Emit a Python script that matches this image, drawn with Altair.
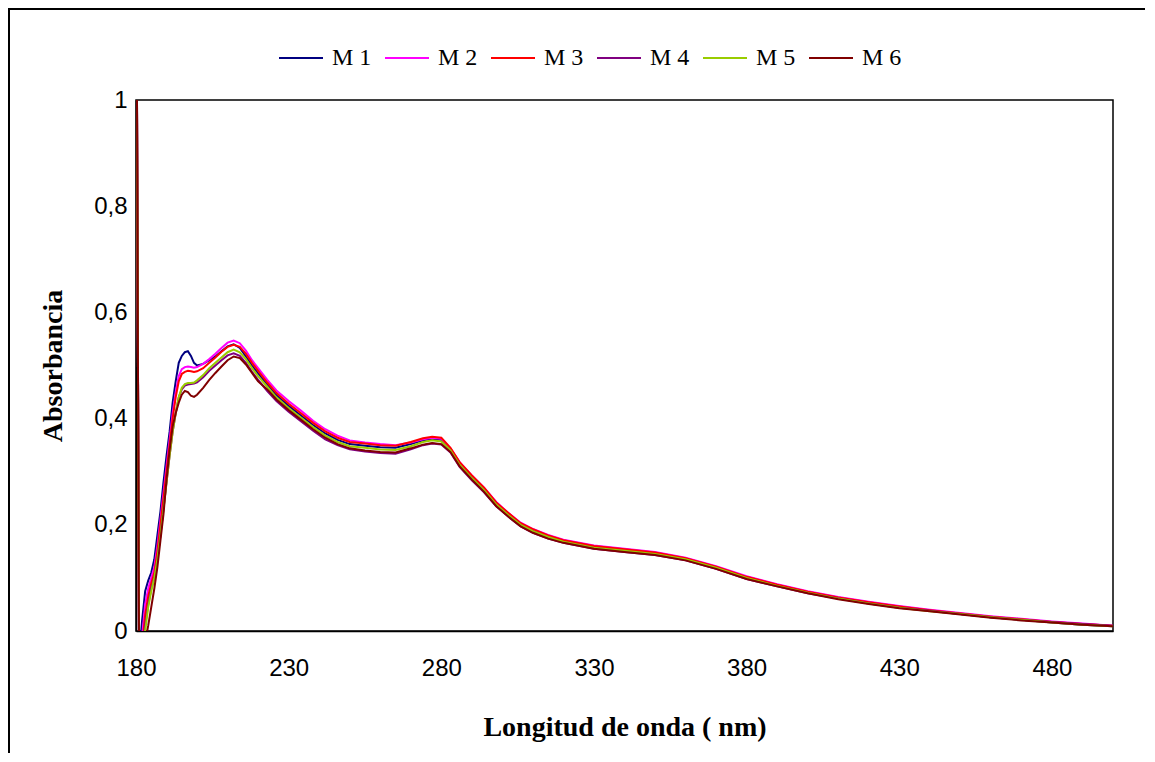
import altair as alt
import pandas as pd

wavelengths = [180, 181, 182, 183, 184, 185, 186, 187, 188, 189, 190, 191, 192, 193, 194, 195, 196, 197, 198, 199, 200,
               202, 204, 206, 208, 210, 212, 214, 216, 218, 220,
               223, 226, 230, 234, 238, 242, 246, 250, 255, 260, 265, 270, 274, 277, 280, 283, 286, 290, 294, 298, 302, 306, 310, 315, 320,
               330, 340, 350, 360, 370, 380, 390, 400, 410, 420, 430, 440, 450, 460, 470, 480, 490, 500]

m1 = [1.5, -0.05, 0.02, 0.075, 0.095, 0.11, 0.135, 0.18, 0.225, 0.28, 0.33, 0.375, 0.43, 0.47, 0.505, 0.518, 0.525, 0.527, 0.518, 0.505, 0.5,
      0.503, 0.51, 0.517, 0.527, 0.536, 0.54, 0.533, 0.517, 0.5, 0.485,
      0.464, 0.444, 0.424, 0.406, 0.388, 0.372, 0.36, 0.352, 0.349, 0.346, 0.345, 0.352, 0.359, 0.362, 0.36, 0.342, 0.315, 0.29, 0.267, 0.24, 0.22, 0.201, 0.19, 0.178, 0.17,
      0.159, 0.153, 0.147, 0.136, 0.12, 0.101, 0.086, 0.073, 0.062, 0.053, 0.045, 0.038, 0.032, 0.026, 0.021, 0.016, 0.012, 0.009]

m2 = [1.5, -0.05, -0.01, 0.05, 0.08, 0.1, 0.12, 0.16, 0.21, 0.26, 0.31, 0.36, 0.41, 0.45, 0.48, 0.493, 0.497, 0.498, 0.497, 0.496, 0.497,
      0.503, 0.512, 0.522, 0.533, 0.543, 0.547, 0.542, 0.528, 0.51, 0.495,
      0.473, 0.453, 0.433, 0.415, 0.396, 0.38, 0.368, 0.359, 0.355, 0.352, 0.35, 0.355, 0.361, 0.364, 0.362, 0.344, 0.318, 0.293, 0.27, 0.243, 0.222, 0.204, 0.192, 0.181, 0.172,
      0.161, 0.155, 0.149, 0.138, 0.122, 0.103, 0.088, 0.075, 0.064, 0.055, 0.047, 0.04, 0.034, 0.028, 0.023, 0.018, 0.014, 0.01]

m3 = [1.5, -0.05, -0.03, 0.03, 0.065, 0.09, 0.11, 0.15, 0.2, 0.25, 0.3, 0.35, 0.4, 0.44, 0.47, 0.484, 0.488, 0.49, 0.489, 0.488, 0.489,
      0.495, 0.505, 0.515, 0.526, 0.535, 0.539, 0.535, 0.522, 0.505, 0.49,
      0.468, 0.448, 0.428, 0.41, 0.392, 0.376, 0.364, 0.356, 0.353, 0.35, 0.349, 0.356, 0.363, 0.366, 0.364, 0.345, 0.318, 0.293, 0.27, 0.242, 0.222, 0.203, 0.192, 0.18, 0.171,
      0.16, 0.154, 0.148, 0.137, 0.121, 0.102, 0.087, 0.074, 0.063, 0.054, 0.046, 0.039, 0.033, 0.027, 0.022, 0.017, 0.013, 0.01]

m4 = [1.5, -0.05, -0.04, 0.01, 0.05, 0.08, 0.1, 0.135, 0.18, 0.23, 0.28, 0.33, 0.375, 0.41, 0.44, 0.455, 0.462, 0.464, 0.465, 0.466, 0.468,
      0.478, 0.49, 0.5, 0.51, 0.519, 0.523, 0.518, 0.505, 0.488, 0.473,
      0.452, 0.433, 0.413, 0.395, 0.377, 0.361, 0.35, 0.342, 0.338, 0.335, 0.334, 0.342, 0.35, 0.353, 0.351, 0.336, 0.309, 0.284, 0.261, 0.235, 0.215, 0.197, 0.185, 0.174, 0.166,
      0.155, 0.149, 0.143, 0.133, 0.117, 0.098, 0.084, 0.071, 0.061, 0.052, 0.044, 0.038, 0.032, 0.026, 0.021, 0.017, 0.013, 0.01]

m5 = [1.5, -0.05, -0.04, 0.0, 0.045, 0.075, 0.1, 0.135, 0.18, 0.23, 0.28, 0.33, 0.375, 0.41, 0.44, 0.458, 0.465, 0.467, 0.467, 0.468, 0.472,
      0.482, 0.495, 0.505, 0.515, 0.525, 0.53, 0.525, 0.512, 0.495, 0.48,
      0.46, 0.44, 0.42, 0.402, 0.384, 0.368, 0.356, 0.348, 0.345, 0.342, 0.341, 0.348, 0.356, 0.359, 0.357, 0.34, 0.313, 0.288, 0.265, 0.238, 0.218, 0.2, 0.188, 0.177, 0.168,
      0.157, 0.151, 0.145, 0.135, 0.119, 0.1, 0.085, 0.072, 0.061, 0.052, 0.044, 0.037, 0.032, 0.026, 0.021, 0.016, 0.012, 0.009]

m6 = [1.5, -0.05, -0.05, -0.02, 0.01, 0.045, 0.08, 0.12, 0.17, 0.22, 0.285, 0.34, 0.385, 0.41, 0.43, 0.445, 0.452, 0.45, 0.443, 0.441, 0.445,
      0.458, 0.473, 0.486, 0.498, 0.51, 0.517, 0.514, 0.502, 0.486, 0.47,
      0.455, 0.436, 0.416, 0.398, 0.38, 0.364, 0.352, 0.344, 0.34, 0.337, 0.336, 0.344, 0.351, 0.354, 0.352, 0.337, 0.31, 0.285, 0.262, 0.235, 0.215, 0.197, 0.185, 0.174, 0.166,
      0.155, 0.149, 0.143, 0.133, 0.117, 0.098, 0.084, 0.071, 0.06, 0.051, 0.043, 0.037, 0.031, 0.025, 0.02, 0.016, 0.012, 0.009]

series_names = ["M 1", "M 2", "M 3", "M 4", "M 5", "M 6"]
series_colors = ["#000080", "#FF00FF", "#FF0000", "#800080", "#99CC00", "#800000"]
x_ticks = [180, 230, 280, 330, 380, 430, 480]
y_ticks = [0, 0.2, 0.4, 0.6, 0.8, 1]

rows = []
for name, vals in zip(series_names, [m1, m2, m3, m4, m5, m6]):
    for w, v in zip(wavelengths, vals, strict=True):
        rows.append({"wl": w, "abs": v, "serie": name})
df = pd.DataFrame(rows)

one = pd.DataFrame({"a": [0]})
frame_top = alt.Chart(one).mark_rule(color="black", strokeWidth=2).encode(
    x=alt.value(-127), x2=alt.value(1009), y=alt.value(-91)
)
frame_left = alt.Chart(one).mark_rule(color="black", strokeWidth=2).encode(
    x=alt.value(-127), y=alt.value(-92), y2=alt.value(653)
)

lines = alt.Chart(df).mark_line(strokeWidth=2, clip=True).encode(
    x=alt.X("wl:Q",
            scale=alt.Scale(domain=[180, 500], nice=False, zero=False),
            axis=alt.Axis(values=x_ticks, title="Longitud de onda ( nm)",
                          labelPadding=25, titlePadding=33, labelFlush=False)),
    y=alt.Y("abs:Q",
            scale=alt.Scale(domain=[0, 1], nice=False),
            axis=alt.Axis(values=y_ticks, title="Absorbancia",
                          labelExpr="replace(format(datum.value, '~g'), '.', ',')",
                          labelPadding=9, titlePadding=26, labelFlush=False)),
    color=alt.Color("serie:N",
                    scale=alt.Scale(domain=series_names, range=series_colors),
                    legend=alt.Legend(title=None, orient="none", legendX=142, legendY=-65,
                                      direction="horizontal", symbolType="stroke",
                                      symbolSize=1936, symbolStrokeWidth=2,
                                      labelFont="Liberation Serif", labelFontSize=24,
                                      labelOffset=8, columnPadding=9, labelColor="black")),
)

chart = alt.layer(frame_top, frame_left, lines).properties(
    width=977, height=531,
    autosize=alt.AutoSizeParams(type="none"),
    padding={"left": 128, "top": 92, "right": 34, "bottom": 123},
    background="white",
).configure_view(
    stroke="black", strokeWidth=1.5
).configure_axis(
    grid=False, ticks=False, domainColor="black", domainWidth=1.5,
    labelFont="Liberation Sans", labelFontSize=24, labelColor="black",
    titleFont="Liberation Serif", titleFontSize=28, titleFontWeight="bold", titleColor="black",
)

chart.save("out.html", embed_options={"renderer": "svg", "actions": False})
